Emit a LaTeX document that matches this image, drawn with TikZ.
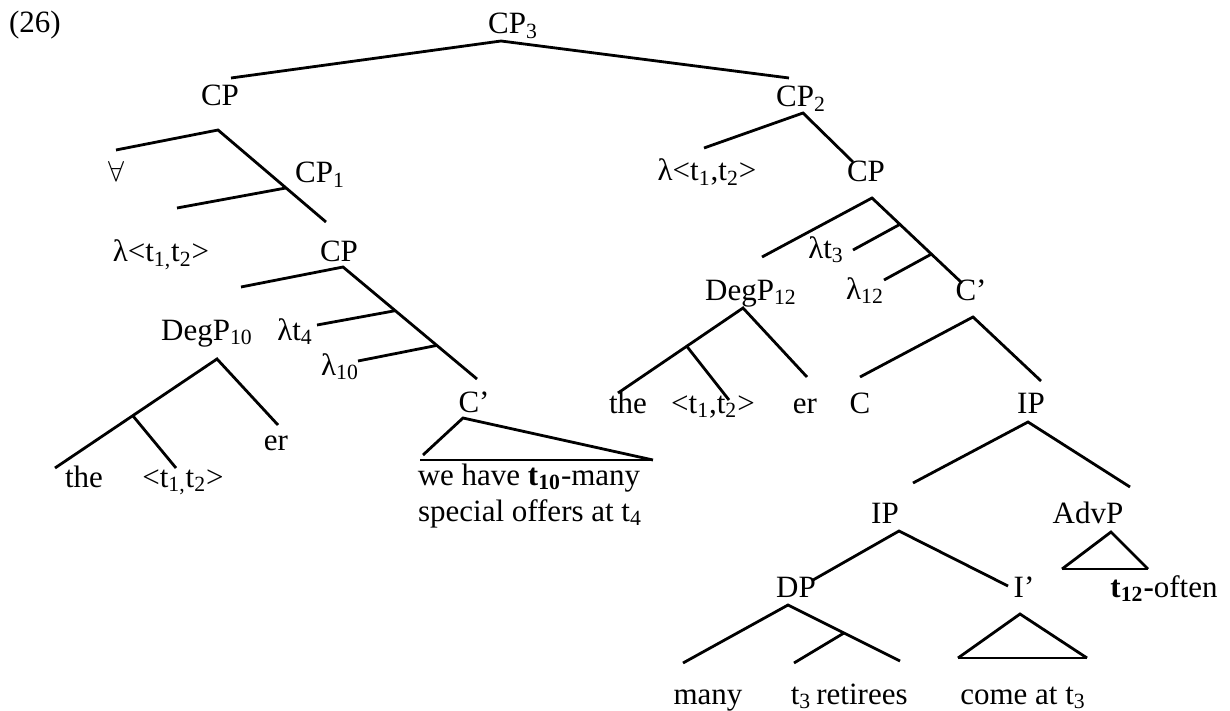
\documentclass[tikz,border=0pt]{standalone}
\usepackage{fontspec}
\setmainfont{Liberation Serif}
\usetikzlibrary{calc}
\tikzset{
  lbl/.style={inner sep=0pt, anchor=base, font=\fontsize{15.5}{18}\selectfont},
  br/.style={line width=1.4pt}
}
\newcommand{\tsub}[1]{\textsubscript{#1}}

\begin{document}
\begin{tikzpicture}[x=0.5pt,y=-0.5pt]
\useasboundingbox (0,0) rectangle (1230,711);
% labels (placed on their baselines)
\node[lbl] (ex) at (35,33) {(26)};
\node[lbl] (cpiii) at (513,34) {CP\tsub{3}};
\node[lbl] (cpa) at (220,106) {CP};
\node[lbl] (cpii) at (801,107) {CP\tsub{2}};
\node[lbl] (all) at (116,182) {$\forall$};
\node[lbl] (cpi) at (320,183) {CP\tsub{1}};
\node[lbl] (lamb) at (707,181) {λ<t\tsub{1},t\tsub{2}>};
\node[lbl] (cpb) at (866,182) {CP};
\node[lbl] (lama) at (161,262) {λ<t\tsub{1,}t\tsub{2}>};
\node[lbl] (cpc) at (339,262) {CP};
\node[lbl] (ltiii) at (826,258) {λt\tsub{3}};
\node[lbl] (degb) at (751,300) {DegP\tsub{12}};
\node[lbl] (lxii) at (865,299) {λ\tsub{12}};
\node[lbl] (cbarb) at (971,300) {C’};
\node[lbl] (dega) at (207,340) {DegP\tsub{10}};
\node[lbl] (ltiv) at (295,340) {λt\tsub{4}};
\node[lbl] (lx) at (340,375) {λ\tsub{10}};
\node[lbl] (era) at (276,450) {er};
\node[lbl] (cbara) at (474,412) {C’};
\node[lbl] (thea) at (84,487) {the};
\node[lbl] (tupa) at (183,487) {<t\tsub{1,}t\tsub{2}>};
\node[lbl] (weh) at (529,485) {we have \textbf{t\tsub{10}}-many};
\node[lbl] (spo) at (530,521) {special offers at t\tsub{4}};
\node[lbl] (theb) at (628,413) {the};
\node[lbl] (tupb) at (713,413) {<t\tsub{1},t\tsub{2}>};
\node[lbl] (erb) at (805,413) {er};
\node[lbl] (cc) at (860,413) {C};
\node[lbl] (ipa) at (1031,413) {IP};
\node[lbl] (ipb) at (885,523) {IP};
\node[lbl] (advp) at (1088,523) {AdvP};
\node[lbl] (dp) at (796,597) {DP};
\node[lbl] (ibar) at (1024,597) {I’};
\node[lbl] (often) at (1164,597) {\textbf{t\tsub{12}-}often};
\node[lbl] (many) at (708,704) {many};
\node[lbl] (tiii) at (801,704) {t\tsub{3}};
\node[lbl] (ret) at (862,704) {retirees};
\node[lbl] (come) at (1023,704) {come at t\tsub{3}};
% branch points
\coordinate (cpiii-b) at (501,41);
\coordinate (cpa-t) at (231,78);
\coordinate (cpii-t) at (789,78);
\coordinate (cpa-b) at (218,130);
\coordinate (all-t) at (116,150);
\coordinate (cpc-t) at (326,222);
\coordinate (lama-t) at (177,208);
\coordinate (cpii-b) at (803,113);
\coordinate (lamb-t) at (704,148);
\coordinate (cpb-t) at (853,162);
\coordinate (cpb-b) at (872,198);
\coordinate (degb-t) at (762,257);
\coordinate (cbarb-t) at (962,283);
\coordinate (ltiii-t) at (853,250);
\coordinate (lxii-t) at (884,280);
\coordinate (cpc-b) at (343,267);
\coordinate (dega-t) at (241,287);
\coordinate (cbara-t) at (477,379);
\coordinate (ltiv-t) at (317,325);
\coordinate (lx-t) at (358,361);
\coordinate (dega-b) at (217,359);
\coordinate (thea-t) at (55,468);
\coordinate (era-t) at (278,425);
\coordinate (tupa-t) at (176,468);
\coordinate (cbara-b) at (463,418);
\coordinate (weh-l) at (423,455);
\coordinate (weh-r) at (653,460);
\coordinate (weh-ll) at (420,460);
\coordinate (degb-b) at (743,308);
\coordinate (theb-t) at (618,393);
\coordinate (erb-t) at (807,377);
\coordinate (tupb-t) at (729,400);
\coordinate (cbarb-b) at (973,317);
\coordinate (cc-t) at (860,377);
\coordinate (ipa-t) at (1041,381);
\coordinate (ipa-b) at (1028,422);
\coordinate (ipb-t) at (913,483);
\coordinate (advp-t) at (1130,487);
\coordinate (ipb-b) at (899,531);
\coordinate (dp-t) at (813,580);
\coordinate (ibar-t) at (1008,586);
\coordinate (advp-b) at (1111,532);
\coordinate (often-l) at (1062,569);
\coordinate (often-r) at (1148,569);
\coordinate (dp-b) at (788,605);
\coordinate (many-t) at (683,663);
\coordinate (ret-t) at (900,661);
\coordinate (tiii-t) at (794,663);
\coordinate (ibar-b) at (1020,614);
\coordinate (come-l) at (958,658);
\coordinate (come-r) at (1087,658);
% branches
\draw[br] (cpa-t) -- (cpiii-b) -- (cpii-t);
\draw[br] (all-t) -- (cpa-b) -- (cpc-t);
\draw[br] (lama-t) -- ($(cpa-b)!0.63!(cpc-t)$);
\draw[br] (lamb-t) -- (cpii-b) -- (cpb-t);
\draw[br] (degb-t) -- (cpb-b) -- (cbarb-t);
\draw[br] (ltiii-t) -- ($(cpb-b)!0.31!(cbarb-t)$);
\draw[br] (lxii-t) -- ($(cpb-b)!0.66!(cbarb-t)$);
\draw[br] (dega-t) -- (cpc-b) -- (cbara-t);
\draw[br] (ltiv-t) -- ($(cpc-b)!0.39!(cbara-t)$);
\draw[br] (lx-t) -- ($(cpc-b)!0.7!(cbara-t)$);
\draw[br] (thea-t) -- (dega-b) -- (era-t);
\draw[br] (tupa-t) -- ($(dega-b)!0.52!(thea-t)$);
\draw[br] (weh-l) -- (cbara-b) -- (weh-r);
\draw[br] (weh-ll) -- (weh-r);
\draw[br] (theb-t) -- (degb-b) -- (erb-t);
\draw[br] (tupb-t) -- ($(degb-b)!0.45!(theb-t)$);
\draw[br] (cc-t) -- (cbarb-b) -- (ipa-t);
\draw[br] (ipb-t) -- (ipa-b) -- (advp-t);
\draw[br] (dp-t) -- (ipb-b) -- (ibar-t);
\draw[br] (often-l) -- (advp-b) -- (often-r);
\draw[br] (often-l) -- (often-r);
\draw[br] (many-t) -- (dp-b) -- (ret-t);
\draw[br] (tiii-t) -- ($(dp-b)!0.5!(ret-t)$);
\draw[br] (come-l) -- (ibar-b) -- (come-r);
\draw[br] (come-l) -- (come-r);
\end{tikzpicture}
\end{document}
